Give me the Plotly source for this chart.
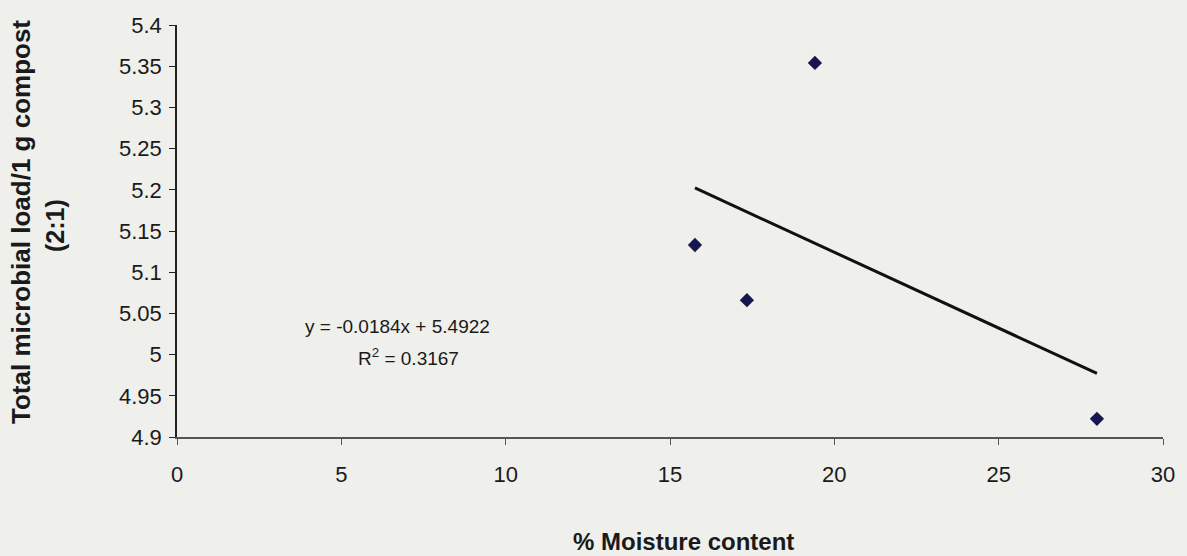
import plotly.graph_objects as go

# Data
moisture = [15.76, 17.34, 19.41, 27.99]
microbial_load = [5.133, 5.066, 5.354, 4.922]

# Printed linear trendline
slope = -0.0184
intercept = 5.4922
r_squared = 0.3167

x_ticks = [0, 5, 10, 15, 20, 25, 30]
y_ticks = [4.9, 4.95, 5.0, 5.05, 5.1, 5.15, 5.2, 5.25, 5.3, 5.35, 5.4]
y_tick_text = ["4.9", "4.95", "5", "5.05", "5.1", "5.15", "5.2", "5.25", "5.3", "5.35", "5.4"]

W, H = 1187, 556
L, R, T, B = 177, 24, 25, 119
PW, PH = W - L - R, H - T - B


def px_x(p):
    return (p - L) / PW


def px_y(p):
    return (H - B - p) / PH


trend_x = [min(moisture), max(moisture)]
trend_y = [slope * v + intercept for v in trend_x]

fig = go.Figure()
fig.add_trace(go.Scatter(
    x=trend_x, y=trend_y, mode="lines",
    line=dict(color="#111111", width=3), showlegend=False, hoverinfo="skip"))
fig.add_trace(go.Scatter(
    x=moisture, y=microbial_load, mode="markers",
    marker=dict(symbol="diamond", size=11, color="#17174f"), showlegend=False))

font_family = "Liberation Sans, Arial, sans-serif"
ink = "#1a1a1a"


def label(px, py, text, size, angle=0):
    fig.add_annotation(x=px_x(px), y=px_y(py), xref="paper", yref="paper",
                       xanchor="center", yanchor="middle", textangle=angle,
                       text=text, showarrow=False,
                       font=dict(family=font_family, size=size, color=ink))


# Trendline equation
label(397, 326, f"y = {slope}x + {intercept}", 19)
label(408, 357, f"R<sup>2</sup> = {r_squared}", 19)

# Axis titles
label(21, 222, "<b>Total microbial load/1 g compost</b>", 26, -90)
label(55, 226, "<b>(2:1)</b>", 25, -90)
label(683, 541, "<b>% Moisture content</b>", 24)

fig.update_layout(
    width=W, height=H,
    margin=dict(l=L, r=R, t=T, b=B),
    paper_bgcolor="#efefeb", plot_bgcolor="#efefeb",
    font=dict(family=font_family, size=22, color=ink),
    xaxis=dict(
        range=[0, 30], tickvals=x_ticks, showgrid=False, zeroline=False,
        showline=True, linecolor="#555555", linewidth=2,
        ticks="outside", ticklen=6, tickcolor="#555555",
        ticklabelstandoff=11, tickfont=dict(size=22)),
    yaxis=dict(
        range=[4.9, 5.4], tickvals=y_ticks, ticktext=y_tick_text,
        showgrid=False, zeroline=False,
        showline=True, linecolor="#222222", linewidth=1.5,
        ticks="outside", ticklen=6, tickcolor="#222222",
        ticklabelstandoff=3, tickfont=dict(size=22)),
)

fig.write_html(
    "out.html",
    config={"displayModeBar": False},
    post_script="document.body.style.margin='0';document.body.style.background='#efefeb';",
)
